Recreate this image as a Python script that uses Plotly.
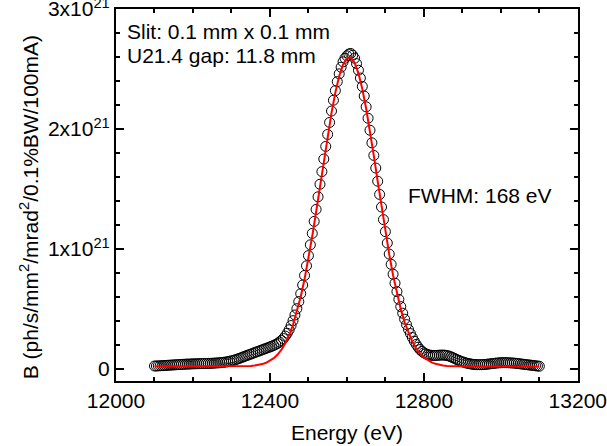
import numpy as np
import plotly.graph_objects as go

# measured brightness, 5 eV steps from 12100 to 13100 eV (units of 1e21)
e_start, e_step = 12100, 5
brightness = [
    0.025, 0.025, 0.026, 0.027, 0.028, 0.029, 0.030, 0.031, 0.032, 0.033,
    0.034, 0.035, 0.036, 0.037, 0.038, 0.039, 0.040, 0.041, 0.041, 0.042,
    0.043, 0.043, 0.044, 0.044, 0.045, 0.045, 0.046, 0.046, 0.047, 0.047,
    0.048, 0.049, 0.050, 0.051, 0.052, 0.054, 0.056, 0.058, 0.061, 0.064,
    0.068, 0.072, 0.077, 0.082, 0.088, 0.094, 0.100, 0.106, 0.112, 0.118,
    0.124, 0.130, 0.136, 0.142, 0.148, 0.154, 0.160, 0.166, 0.172, 0.178,
    0.184, 0.190, 0.197, 0.205, 0.214, 0.225, 0.238, 0.254, 0.274, 0.298,
    0.327, 0.362, 0.403, 0.450, 0.503, 0.562, 0.628, 0.700, 0.780, 0.860,
    0.945, 1.035, 1.130, 1.230, 1.330, 1.435, 1.540, 1.645, 1.750, 1.855,
    1.955, 2.055, 2.150, 2.240, 2.320, 2.395, 2.460, 2.515, 2.560, 2.590,
    2.610, 2.625, 2.630, 2.615, 2.590, 2.545, 2.490, 2.425, 2.355, 2.275,
    2.185, 2.090, 1.990, 1.885, 1.780, 1.675, 1.565, 1.455, 1.350, 1.245,
    1.145, 1.050, 0.958, 0.872, 0.790, 0.715, 0.645, 0.580, 0.520, 0.465,
    0.415, 0.370, 0.330, 0.295, 0.262, 0.232, 0.205, 0.182, 0.162, 0.147,
    0.135, 0.126, 0.120, 0.116, 0.114, 0.113, 0.113, 0.114, 0.115, 0.116,
    0.116, 0.115, 0.112, 0.108, 0.102, 0.095, 0.088, 0.080, 0.073, 0.066,
    0.060, 0.055, 0.050, 0.046, 0.043, 0.040, 0.038, 0.037, 0.036, 0.036,
    0.036, 0.037, 0.038, 0.040, 0.042, 0.044, 0.046, 0.048, 0.050, 0.051,
    0.052, 0.053, 0.053, 0.053, 0.052, 0.051, 0.050, 0.049, 0.047, 0.045,
    0.043, 0.041, 0.039, 0.037, 0.035, 0.033, 0.031, 0.029, 0.027, 0.025,
    0.023,
]

# gaussian fit, 10 eV steps from 12100 to 13100 eV (units of 1e21)
fit_start, fit_step = 12100, 10
fit = [
    0.020, 0.020, 0.020, 0.020, 0.020, 0.020, 0.020, 0.020, 0.020, 0.020,
    0.020, 0.020, 0.020, 0.020, 0.020, 0.020, 0.020, 0.020, 0.020, 0.020,
    0.020, 0.021, 0.021, 0.022, 0.023, 0.026, 0.029, 0.034, 0.041, 0.052,
    0.068, 0.090, 0.120, 0.161, 0.215, 0.283, 0.369, 0.475, 0.602, 0.750,
    0.919, 1.107, 1.309, 1.521, 1.734, 1.942, 2.135, 2.305, 2.441, 2.539,
    2.591, 2.596, 2.553, 2.464, 2.335, 2.171, 1.982, 1.777, 1.564, 1.351,
    1.146, 0.955, 0.782, 0.630, 0.499, 0.389, 0.299, 0.227, 0.171, 0.128,
    0.096, 0.072, 0.055, 0.043, 0.035, 0.030, 0.026, 0.024, 0.022, 0.021,
    0.021, 0.020, 0.020, 0.020, 0.020, 0.020, 0.020, 0.020, 0.020, 0.020,
    0.020, 0.020, 0.020, 0.020, 0.020, 0.020, 0.020, 0.020, 0.020, 0.020,
    0.020,
]

x_ticks = [12000, 12400, 12800, 13200]
x_tick_text = ["12000", "12400", "12800", "13200"]
y_ticks = [0, 1e21, 2e21, 3e21]
y_tick_text = ["0", "1x10<sup>21</sup>", "2x10<sup>21</sup>", "3x10<sup>21</sup>"]

energy = e_start + e_step * np.arange(len(brightness))
fit_energy = fit_start + fit_step * np.arange(len(fit))

FONT = "Liberation Sans, Arial, sans-serif"

fig = go.Figure()
fig.add_trace(go.Scatter(
    x=energy, y=np.array(brightness) * 1e21, mode="markers",
    marker=dict(symbol="circle-open", size=10, color="black", line=dict(width=1, color="black")),
    showlegend=False,
))
fig.add_trace(go.Scatter(
    x=fit_energy, y=np.array(fit) * 1e21, mode="lines",
    line=dict(color="#ff0000", width=2), showlegend=False,
))

axis_common = dict(
    showline=True, linecolor="black", linewidth=2, mirror="ticks",
    ticks="inside", tickcolor="black", tickwidth=1.5, ticklen=8,
    showgrid=False, zeroline=False, automargin=False, ticklabeloverflow="allow",
    tickfont=dict(family=FONT, size=21, color="black"),
)

fig.update_xaxes(
    range=[12000, 13200.5], tickvals=x_ticks, ticktext=x_tick_text,
    minor=dict(dtick=100, ticks="inside", ticklen=4, tickcolor="black", tickwidth=1.5),
    title=dict(text="Energy (eV)", font=dict(family=FONT, size=21, color="black"), standoff=14),
    **axis_common,
)
fig.update_yaxes(
    range=[-0.1e21, 3.0005e21], tickvals=y_ticks, ticktext=y_tick_text,
    minor=dict(dtick=0.2e21, ticks="inside", ticklen=4, tickcolor="black", tickwidth=1.5),
    **axis_common,
)

fig.add_annotation(
    text="B (ph/s/mm<sup>2</sup>/mrad<sup>2</sup>/0.1%BW/100mA)",
    xref="paper", yref="paper", x=-0.22, y=0.468, textangle=-90,
    showarrow=False, font=dict(family=FONT, size=21, color="black"),
)
fig.add_annotation(
    text="Slit: 0.1 mm x 0.1 mm", xref="paper", yref="paper",
    x=0.02, y=0.94, xanchor="left", yanchor="middle", showarrow=False,
    font=dict(family=FONT, size=21, color="black"),
)
fig.add_annotation(
    text="U21.4 gap: 11.8 mm", xref="paper", yref="paper",
    x=0.02, y=0.876, xanchor="left", yanchor="middle", showarrow=False,
    font=dict(family=FONT, size=21, color="black"),
)
fig.add_annotation(
    text="FWHM: 168 eV", xref="paper", yref="paper",
    x=0.627, y=0.50, xanchor="left", yanchor="middle", showarrow=False,
    font=dict(family=FONT, size=21, color="black"),
)

fig.update_layout(
    width=607, height=446,
    margin=dict(l=116, r=29, t=9, b=65),
    plot_bgcolor="white", paper_bgcolor="white",
)

# drop the default 8 px body margin so the figure fills the window
fig.write_html("out.html", config={"displayModeBar": False},
               post_script="document.body.style.margin = '0';")
